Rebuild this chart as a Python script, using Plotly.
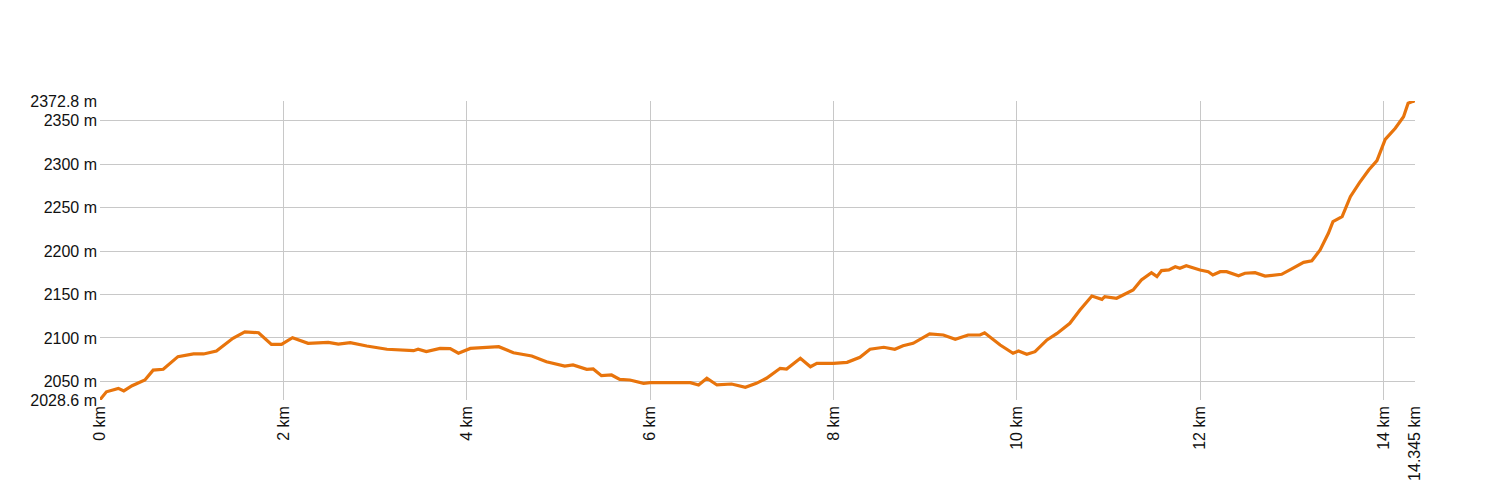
import plotly.graph_objects as go

dist_km = [0.0, 0.07, 0.2, 0.26, 0.35, 0.49, 0.58, 0.69, 0.85, 1.02, 1.13, 1.27, 1.45, 1.58, 1.73,
           1.87, 1.98, 2.1, 2.27, 2.49, 2.6, 2.73, 2.91, 3.13, 3.42, 3.47, 3.56, 3.71, 3.82, 3.91,
           4.04, 4.15, 4.35, 4.51, 4.71, 4.87, 5.07, 5.16, 5.31, 5.38, 5.47, 5.58, 5.67, 5.78,
           5.93, 6.0, 6.44, 6.53, 6.62, 6.73, 6.89, 7.04, 7.16, 7.27, 7.42, 7.49, 7.64, 7.75,
           7.82, 8.0, 8.15, 8.29, 8.4, 8.55, 8.67, 8.76, 8.87, 9.05, 9.2, 9.33, 9.47, 9.6, 9.65,
           9.82, 9.96, 10.02, 10.11, 10.2, 10.33, 10.44, 10.58, 10.69, 10.82, 10.93, 10.96,
           11.09, 11.18, 11.27, 11.36, 11.47, 11.53, 11.58, 11.66, 11.73, 11.78, 11.85, 12.0,
           12.09, 12.14, 12.22, 12.29, 12.42, 12.49, 12.6, 12.71, 12.89, 13.01, 13.13, 13.22,
           13.31, 13.4, 13.45, 13.55, 13.64, 13.74, 13.84, 13.93, 14.02, 14.13, 14.22, 14.27,
           14.33, 14.345]
elev_m = [2029, 2038, 2042, 2039, 2045, 2051.6, 2063, 2064, 2078.5, 2081.6, 2081.6, 2085, 2099.6,
          2107, 2106, 2092.7, 2092.7, 2100.3, 2093.9, 2095, 2093, 2094.6, 2090.8, 2087, 2085.4,
          2087, 2084.4, 2088, 2087.7, 2082.4, 2088, 2088.8, 2090, 2083, 2079.2, 2072.7, 2067.7,
          2068.9, 2063.9, 2064.3, 2056.6, 2057.4, 2052.4, 2051.6, 2047.8, 2048.5, 2048.5, 2045.9,
          2053.6, 2045.9, 2047, 2043.2, 2047.8, 2053.6, 2065.1, 2064.3, 2076.6, 2066.9, 2070.8,
          2070.8, 2072, 2077.7, 2087, 2089.3, 2087, 2091.1, 2093.9, 2104.6, 2103.4, 2098.5,
          2103.4, 2103.4, 2106, 2091.9, 2082.4, 2085, 2081.2, 2084.2, 2097.7, 2105.2, 2116.9,
          2132.2, 2148.3, 2144.5, 2147.5, 2145.7, 2150.6, 2155.2, 2166.7, 2175.2, 2170.6, 2177.5,
          2178.3, 2182, 2180.2, 2183.2, 2178.3, 2176.3, 2172.5, 2176.3, 2176.3, 2171.7, 2174.5,
          2175.2, 2171.3, 2173.3, 2180.2, 2187.1, 2188.9, 2201.3, 2220.5, 2233.9, 2239.6, 2262.7,
          2278.8, 2293.4, 2304.1, 2328.7, 2341.4, 2354.7, 2370.2, 2372.8, 2372]

x_tickvals = [0, 2, 4, 6, 8, 10, 12, 14, 14.345]
x_ticktext = ["0 km", "2 km", "4 km", "6 km", "8 km", "10 km", "12 km", "14 km", "14.345 km"]
y_tickvals = [2028.6, 2050, 2100, 2150, 2200, 2250, 2300, 2350, 2372.8]
y_ticktext = ["2028.6 m", "2050 m", "2100 m", "2150 m", "2200 m", "2250 m", "2300 m", "2350 m", "2372.8 m"]

fig = go.Figure()
fig.add_trace(go.Scatter(x=dist_km, y=elev_m, mode="lines",
                         line=dict(color="#E8740C", width=3.2), showlegend=False,
                         hoverinfo="skip", cliponaxis=False))

fig.update_layout(
    width=1500, height=500,
    margin=dict(l=100, r=85, t=101, b=100, autoexpand=False),
    paper_bgcolor="white", plot_bgcolor="white",
    font=dict(family="Liberation Sans, Arial, sans-serif", size=16, color="#111111"),
)
fig.update_xaxes(range=[0, 14.345], tickvals=x_tickvals, ticktext=x_ticktext, tickangle=-90,
                 showgrid=True, gridcolor="#c8c8c8", gridwidth=1, zeroline=False,
                 showline=False, ticks="", ticklabelstandoff=2, automargin=False)
fig.update_yaxes(range=[2028.6, 2372.8], tickvals=y_tickvals, ticktext=y_ticktext,
                 showgrid=True, gridcolor="#c8c8c8", gridwidth=1, zeroline=False,
                 showline=False, ticks="", ticklabelstandoff=2, automargin=False)

fig.write_html("out.html", post_script="document.body.style.margin='0';",
               config={"displayModeBar": False})
